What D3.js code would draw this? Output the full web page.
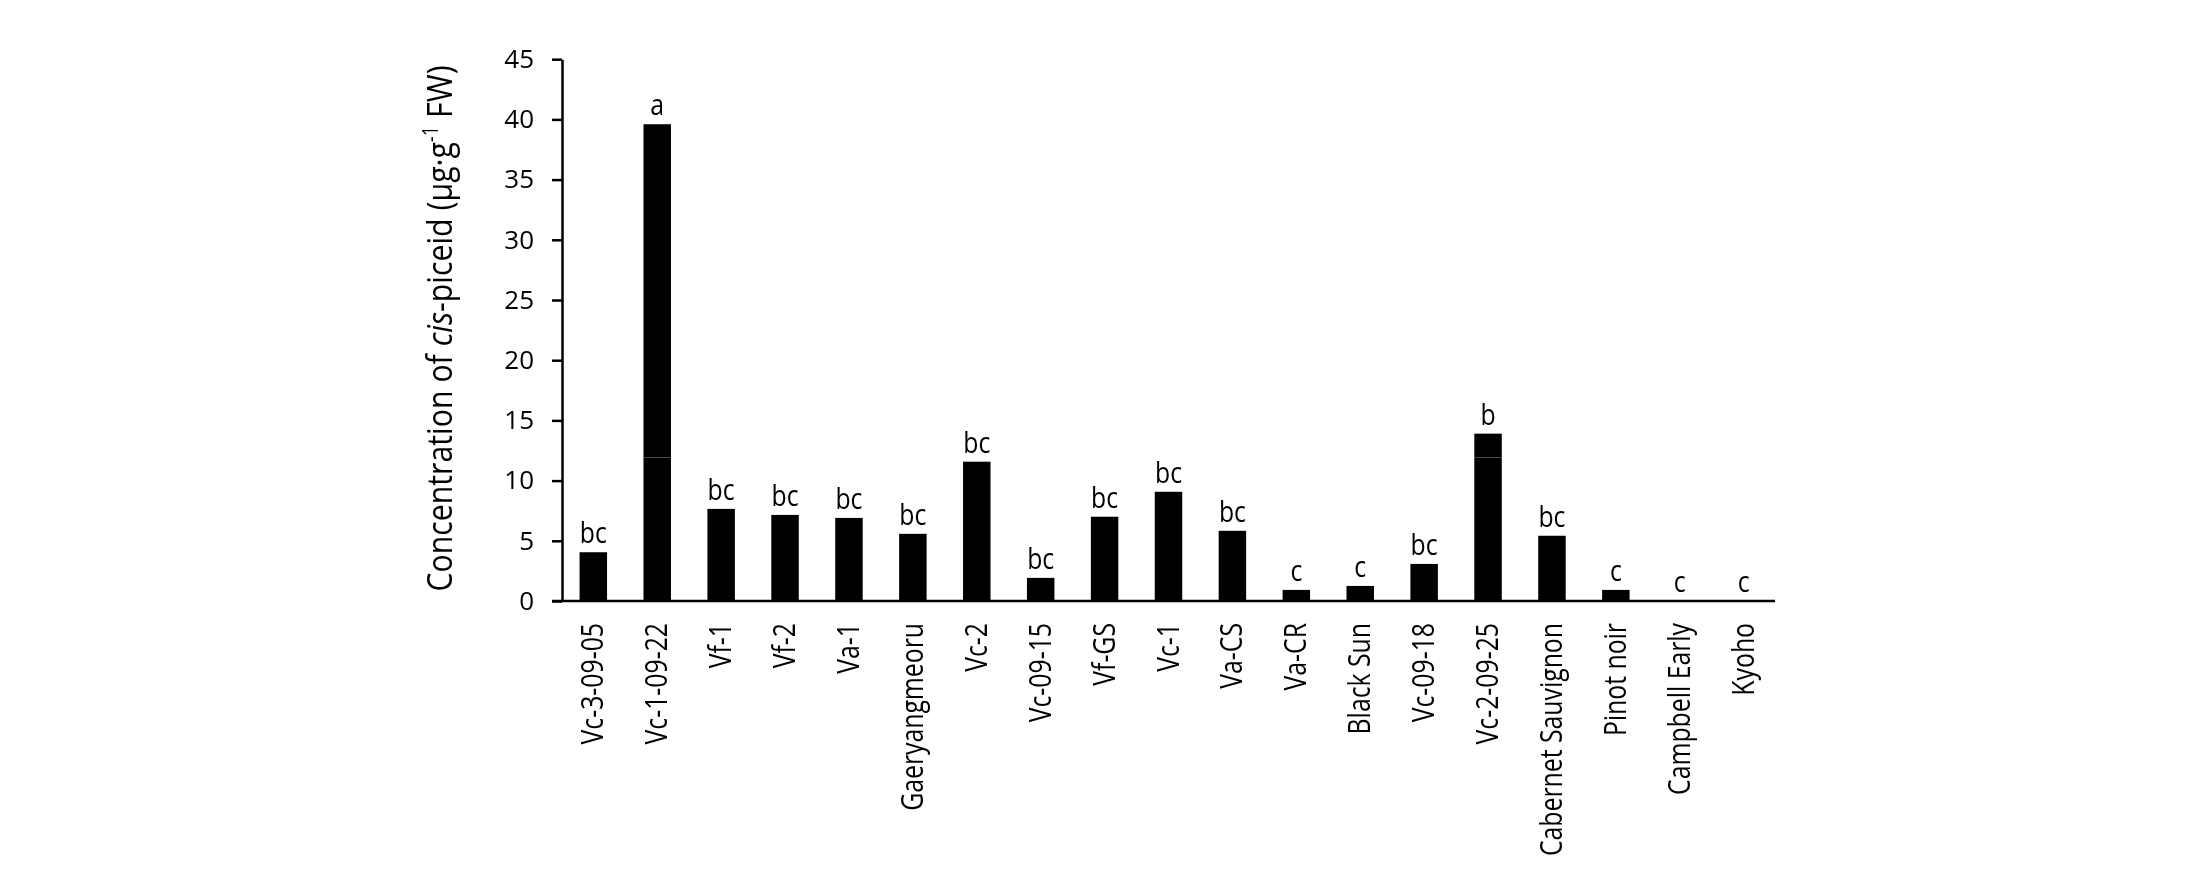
<!DOCTYPE html>
<html>
<head>
<meta charset="utf-8">
<script src="https://cdn.jsdelivr.net/npm/d3@7"></script>
<style>
  html, body { margin: 0; padding: 0; background: #fff; }
  svg { display: block; }
  text { font-family: "Open Sans", "Noto Sans", sans-serif; fill: #000; }
</style>
</head>
<body>
<svg id="chart" width="2185" height="886"></svg>
<script>
const categories = ["Vc-3-09-05", "Vc-1-09-22", "Vf-1", "Vf-2", "Va-1", "Gaeryangmeoru", "Vc-2",
  "Vc-09-15", "Vf-GS", "Vc-1", "Va-CS", "Va-CR", "Black Sun", "Vc-09-18", "Vc-2-09-25",
  "Cabernet Sauvignon", "Pinot noir", "Campbell Early", "Kyoho"];
const values = [4.05, 39.6, 7.65, 7.15, 6.9, 5.58, 11.57, 1.92, 7.0, 9.07, 5.83, 0.92, 1.25, 3.08, 13.9, 5.42, 0.92, 0, 0];
const letters = ["bc", "a", "bc", "bc", "bc", "bc", "bc", "bc", "bc", "bc", "bc", "c", "c", "bc", "b", "bc", "c", "c", "c"];
const yTicks = [0, 5, 10, 15, 20, 25, 30, 35, 40, 45];
const guideValue = [12];

const svg = d3.select("#chart");
svg.append("rect").attr("width", 2185).attr("height", 886).attr("fill", "#fff");
const x0 = 562, x1 = 1775, yBottom = 601, yTop = 59.2;

const x = d3.scaleBand().domain(categories).range([x0, x1]).paddingInner(0.57).paddingOuter(0.275);
const y = d3.scaleLinear().domain([0, 45]).range([yBottom, yTop]);

// bars
svg.append("g").selectAll("rect").data(categories).join("rect")
  .attr("x", d => x(d))
  .attr("width", x.bandwidth())
  .attr("y", (d, i) => y(values[i]))
  .attr("height", (d, i) => y(0) - y(values[i]))
  .attr("fill", "#000");

// faint guide line present in reference (only shows on the dark bars)
svg.append("g").selectAll("line").data(guideValue).join("line")
  .attr("x1", x0 + 2).attr("x2", x1)
  .attr("y1", d => Math.round(y(d)) + 0.5).attr("y2", d => Math.round(y(d)) + 0.5)
  .attr("stroke", "#4a4a4a").attr("stroke-width", 1)
  .style("mix-blend-mode", "lighten");

// letters
svg.append("g").selectAll("text").data(categories).join("text")
  .attr("transform", (d, i) => `translate(${x(d) + x.bandwidth() / 2},${y(values[i]) - 9}) scale(0.87,1)`)
  .attr("text-anchor", "middle")
  .attr("font-size", 28.5)
  .text((d, i) => letters[i]);

// y axis
const yAxis = d3.axisLeft(y).tickValues(yTicks).tickSize(10).tickPadding(18).tickSizeOuter(0);
const gy = svg.append("g").attr("transform", `translate(${x0},0)`).call(yAxis);
gy.select(".domain").attr("stroke", "#000").attr("stroke-width", 2.5);
gy.selectAll(".tick line").attr("stroke", "#000").attr("stroke-width", 2.5);
gy.selectAll(".tick text").attr("font-size", 26).attr("font-family", "Open Sans, Noto Sans, sans-serif").attr("fill", "#000");

// x axis
const xAxis = d3.axisBottom(x).tickSize(0).tickPadding(0).tickSizeOuter(0);
const gx = svg.append("g").attr("transform", `translate(0,${yBottom})`).call(xAxis);
gx.select(".domain").remove();
gx.append("line").attr("x1", x0 - 10).attr("x2", x1).attr("y1", 0).attr("y2", 0)
  .attr("stroke", "#000").attr("stroke-width", 2.7);
gx.selectAll(".tick text")
  .attr("font-size", 31)
  .attr("font-family", "Open Sans, Noto Sans, sans-serif")
  .attr("fill", "#000")
  .attr("text-anchor", "end")
  .attr("dy", null)
  .attr("y", 0)
  .attr("transform", "translate(10,22) rotate(-90) scale(0.8,1)");

// y title
const title = svg.append("text")
  .attr("transform", `translate(452,${(65 + 592) / 2}) rotate(-90) scale(0.865,1)`)
  .attr("text-anchor", "middle")
  .attr("font-size", 35);
title.append("tspan").text("Concentration of ");
title.append("tspan").attr("font-style", "italic").text("cis");
title.append("tspan").text("-piceid (µg·g");
title.append("tspan").attr("font-size", 21).attr("dy", -14).text("-1");
title.append("tspan").attr("dy", 14).text(" FW)");
</script>
</body>
</html>
